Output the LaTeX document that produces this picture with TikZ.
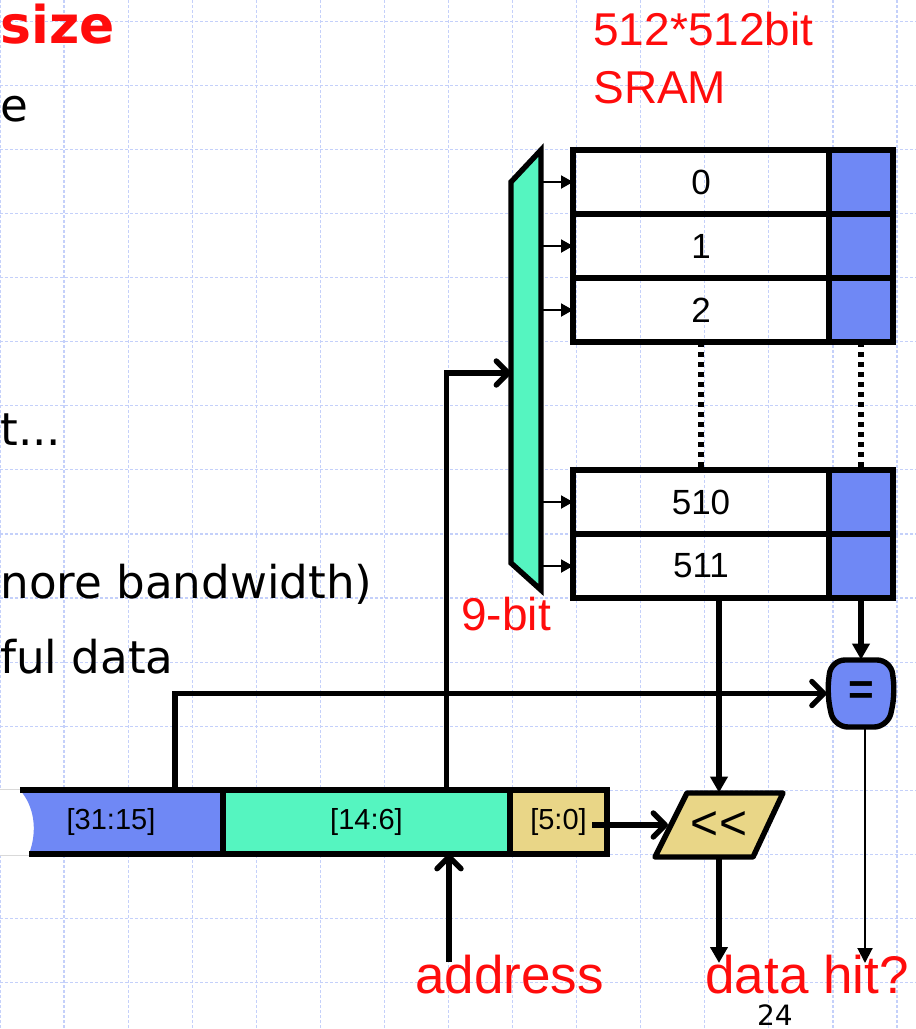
\documentclass[tikz,border=0pt]{standalone}
\usepackage{fontspec}
\setmainfont{Liberation Sans}
\newfontfamily\slidefont{DejaVu Sans}
\usetikzlibrary{positioning}
\usetikzlibrary{arrows.meta}

\definecolor{tagblue}{RGB}{111,136,245}
\definecolor{decgreen}{RGB}{85,245,192}
\definecolor{shiftyellow}{RGB}{233,214,135}
\definecolor{labelred}{RGB}{255,12,12}
\definecolor{gridblue}{RGB}{196,208,250}

\begin{document}
\begin{tikzpicture}[x=0.5pt, y=-0.5pt,
	thickline/.style={line width=2.7pt},
	gridline/.style={draw=gridblue, line width=0.6pt, dash pattern=on 1.5pt off 1pt},
	openarrow/.style={line width=2.7pt, -{Straight Barb[length=6pt,width=12pt,round]}},
	fillarrow/.style={line width=2.7pt, -{Triangle[length=8pt,width=8.5pt]}},
	rowarrow/.style={line width=1pt, -{Triangle[length=6pt,width=6.5pt]}},
	rowbox/.style={draw, line width=2.7pt, outer sep=0pt, inner sep=0pt, minimum width=128pt, minimum height=32pt, font=\fontsize{17.5}{20}\selectfont},
	tagbox/.style={draw, fill=tagblue, line width=2.7pt, outer sep=0pt, minimum width=32pt, minimum height=32pt},
	fieldbox/.style={draw, line width=2.7pt, outer sep=0pt, inner sep=0pt, minimum height=32pt, font=\fontsize{14.5}{17}\selectfont},
	redlabel/.style={text=labelred, inner sep=0pt, anchor=base west},
	slidetext/.style={inner sep=0pt, anchor=base west, font=\slidefont\fontsize{22.6}{26}\selectfont}]
			\useasboundingbox (0,0) rectangle (916,1029);
			\fill[white] (0,0) rectangle (916,1029);
			
			% background grid
			\foreach \gx in {0,...,14}
				\draw[gridline] (64.07*\gx,0) -- (64.07*\gx,1029);
			\foreach \gy in {0,...,15}
				\draw[gridline] (0,21.4+64.07*\gy) -- (916,21.4+64.07*\gy);
			
			% slide text cut at the left edge
			\node[slidetext, text=labelred, font=\slidefont\bfseries\fontsize{26}{30}\selectfont] (sizeword) at (0,43) {size};
			\node[slidetext] (frag1) at (0,121) {e};
			\node[slidetext] (frag2) at (0,445) {t...};
			\node[slidetext] (frag3) at (0,598) {nore bandwidth)};
			\node[slidetext] (frag4) at (0,673) {ful data};
			
			% SRAM
			\node[redlabel, font=\fontsize{23}{27}\selectfont] (title) at (593,45) {512*512bit};
			\node[redlabel, font=\fontsize{23}{27}\selectfont] (sram) at (593,103) {SRAM};
			
			\node[rowbox] (row0) at (701,182) {0};
			\node[rowbox, below=0pt of row0] (row1) {1};
			\node[rowbox, below=0pt of row1] (row2) {2};
			\node[rowbox] (row510) at (701,502) {510};
			\node[rowbox, below=0pt of row510] (row511) {511};
			
			\node[tagbox, right=0pt of row0] (tag0) {};
			\node[tagbox, right=0pt of row1] (tag1) {};
			\node[tagbox, right=0pt of row2] (tag2) {};
			\node[tagbox, right=0pt of row510] (tag510) {};
			\node[tagbox, right=0pt of row511] (tag511) {};
			
			\draw[line width=2.6pt, dash pattern=on 2.5pt off 2.5pt] (row2.south) -- (row510.north);
			\draw[line width=2.6pt, dash pattern=on 2.5pt off 2.5pt] (tag2.south) -- (tag510.north);
			
			% decoder
			\filldraw[fill=decgreen, thickline] (511,182) -- (541,150) -- (541,590) -- (511,563) -- cycle;
			\coordinate (decin) at (511,373);
			\coordinate (decout) at (541,373);
			\node[redlabel, font=\fontsize{23}{27}\selectfont] (nbit) at (461,630) {9-bit};
			
			\draw[rowarrow] (row0.west -| decout) -- (row0.west);
			\draw[rowarrow] (row1.west -| decout) -- (row1.west);
			\draw[rowarrow] (row2.west -| decout) -- (row2.west);
			\draw[rowarrow] (row510.west -| decout) -- (row510.west);
			\draw[rowarrow] (row511.west -| decout) -- (row511.west);
			
			% address
			\fill[white] (0,789) -- (20,789) .. controls (34,806) and (38,830) .. (29,855) -- (0,855) -- cycle;
			\draw[line width=0.4pt, black!15] (0,789) -- (20,789) (0,855) -- (29,855);
			\fill[tagblue] (223,790) -- (20,790) .. controls (34,806) and (38,830) .. (29,854) -- (223,854) -- cycle;
			\draw[thickline] (20,790) -- (223,790) (29,854) -- (223,854);
			\node[fieldbox, draw=none, minimum width=64pt] (f0) at (111,822) {[31:15]};
			\node[fieldbox, fill=decgreen, minimum width=143.5pt] (f1) at (366.5,822) {[14:6]};
			\node[fieldbox, fill=shiftyellow, minimum width=48.5pt] (f2) at (558.5,822) {[5:0]};
			\coordinate (f2out) at (592,825);
			
			% shifter and comparator
			\filldraw[fill=shiftyellow, thickline, line join=round] (687,793) -- (783,793) -- (753,857) -- (655,857) -- cycle;
			\node[inner sep=0pt, minimum width=32pt, minimum height=32pt, font=\fontsize{24}{28}\selectfont] (shl) at (719,825) {<{}<};
			\coordinate (shlin) at (668,825);
			
			\filldraw[fill=tagblue, thickline, rounded corners=7pt] (834,727) -- (827,694) -- (831,660) -- (891,660) -- (895,694) -- (888,727) -- cycle;
			\node[inner sep=0pt, minimum width=34pt, minimum height=33.5pt, font=\bfseries\fontsize{22}{26}\selectfont] (cmp) at (861,693.5) {=};
			
			\node[redlabel, font=\fontsize{26.5}{30}\selectfont] (addr) at (415,993) {address};
			\node[redlabel, font=\fontsize{26.5}{30}\selectfont] (hit) at (705,993) {data hit?};
			\node[inner sep=0pt, anchor=base, font=\slidefont\fontsize{14}{17}\selectfont] (page) at (775,1025) {24};
			\coordinate (adrstart) at (449,962);
			\coordinate (dataend) at (719,963);
			\coordinate (hitend) at (865,963);
			
			\draw[openarrow] ([xshift=32pt]f0.north) |- (cmp.west);
			\draw[openarrow] ([xshift=40pt]f1.north) |- (decin);
			\draw[openarrow] (f2out) -- (shlin);
			\draw[openarrow] (adrstart) -- (adrstart |- f1.south);
			\draw[fillarrow] (shl.north |- row511.south) -- (shl.north);
			\draw[fillarrow] (tag511.south) -- (cmp.north);
			\draw[fillarrow] (shl.south) -- (dataend);
			\draw[line width=1pt, -{Triangle[length=7.5pt,width=7.5pt]}] ([xshift=2pt]cmp.south) -- (hitend);
			\end{tikzpicture}
\end{document}
